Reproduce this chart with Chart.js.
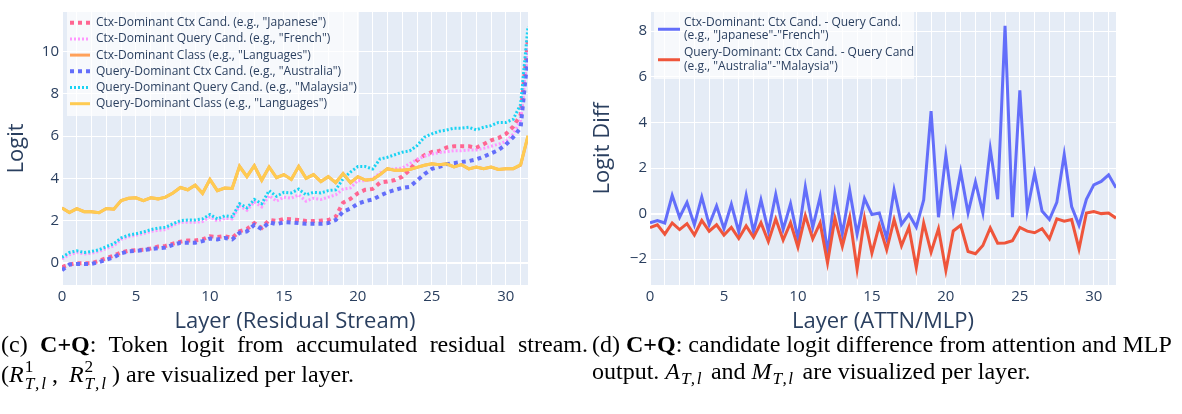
<!DOCTYPE html>
<html>
<head>
<meta charset="utf-8">
<script src="https://cdn.jsdelivr.net/npm/chart.js@4.4.0/dist/chart.umd.min.js"></script>
<style>
  body { margin: 0; width: 1182px; height: 414px; background: #fff; position: relative; overflow: hidden; }
  .box { position: absolute; top: 0; height: 335px; }
  #leftBox { left: 0; width: 580px; }
  #rightBox { left: 580px; width: 602px; }
  .cap { position: absolute; top: 331px; font-family: "Liberation Serif", "Times New Roman", serif; font-size: 24px; line-height: 27px; color: #000; white-space: nowrap; }
  .just { text-align: justify; text-align-last: justify; }
  .m { font-style: italic; }
  .ss { display: inline-block; vertical-align: -0.45em; font-size: 0.72em; line-height: 1.0; text-align: left; margin: 0 4px 0 1px; }
  .ss span { display: block; letter-spacing: 2px; }
  .sub { display: inline-block; font-size: 0.72em; vertical-align: -0.3em; letter-spacing: 1.5px; margin: 0 2px 0 1px; }
</style>
</head>
<body>
<div class="box" id="leftBox"><canvas id="residChart" width="580" height="335"></canvas></div>
<div class="box" id="rightBox"><canvas id="diffChart" width="602" height="335"></canvas></div>

<div class="cap" style="left:1px; width:587px;">
  <div class="just">(c) <b>C+Q</b>: Token logit from accumulated residual stream.</div>
  <div>(<span class="m">R</span><span class="ss"><span>1</span><span class="m">T,l</span></span>,&thinsp; <span class="m">R</span><span class="ss"><span>2</span><span class="m">T,l</span></span>) are visualized per layer.</div>
</div>
<div class="cap" style="left:592px;">
  <div>(d) <b>C+Q</b>: candidate logit difference from attention and MLP</div>
  <div>output. <span class="m">A</span><span class="sub m">T,l</span> and <span class="m">M</span><span class="sub m">T,l</span> are visualized per layer.</div>
</div>

<script>
// x positions: attn / mlp half-steps per layer
const layers = [0, 0.5, 1, 1.5, 2, 2.5, 3, 3.5, 4, 4.5, 5, 5.5, 6, 6.5, 7, 7.5,
    8, 8.5, 9, 9.5, 10, 10.5, 11, 11.5, 12, 12.5, 13, 13.5, 14, 14.5, 15, 15.5,
    16, 16.5, 17, 17.5, 18, 18.5, 19, 19.5, 20, 20.5, 21, 21.5, 22, 22.5, 23, 23.5,
    24, 24.5, 25, 25.5, 26, 26.5, 27, 27.5, 28, 28.5, 29, 29.5, 30, 30.5, 31, 31.5];

// (c) token logit, accumulated residual stream
const ctxCtxCand = [-0.2, -0.08, -0.02, -0.02, -0.02, 0.1, 0.22, 0.34,
    0.49, 0.57, 0.6, 0.62, 0.68, 0.77, 0.8, 0.91,
    1.0, 1.06, 1.06, 1.11, 1.26, 1.22, 1.26, 1.18,
    1.49, 1.6, 1.88, 1.65, 2.03, 1.98, 2.08, 2.06,
    2.03, 1.98, 1.98, 2.0, 2.03, 2.18, 2.85, 3.03,
    3.3, 3.46, 3.5, 3.8, 3.85, 3.92, 4.08, 4.4,
    4.85, 5.1, 5.25, 5.3, 5.46, 5.52, 5.52, 5.52,
    5.45, 5.62, 5.8, 5.91, 6.1, 6.45, 7.0, 10.6];
const ctxQueryCand = [0.18, 0.38, 0.49, 0.42, 0.45, 0.54, 0.68, 0.8,
    1.11, 1.23, 1.31, 1.38, 1.49, 1.54, 1.57, 1.77,
    1.92, 1.92, 1.92, 1.95, 2.18, 1.98, 2.11, 2.08,
    2.69, 2.49, 2.88, 2.65, 3.18, 2.92, 3.11, 3.06,
    3.22, 2.92, 3.06, 3.0, 3.11, 3.22, 3.49, 3.55,
    3.9, 3.88, 3.98, 4.26, 4.42, 4.45, 4.49, 4.7,
    4.9, 5.05, 5.15, 5.22, 5.26, 5.31, 5.31, 5.34,
    5.34, 5.42, 5.52, 5.62, 5.75, 6.1, 6.75, 10.3];
const ctxClass = [2.6, 2.38, 2.57, 2.42, 2.42, 2.37, 2.57, 2.54,
    2.95, 3.06, 3.08, 2.95, 3.08, 3.03, 3.11, 3.31,
    3.57, 3.46, 3.68, 3.29, 3.95, 3.42, 3.54, 3.52,
    4.57, 4.08, 4.6, 3.91, 4.54, 4.03, 4.18, 3.95,
    4.57, 4.0, 4.18, 3.85, 4.08, 3.8, 4.23, 3.8,
    4.08, 3.92, 3.95, 4.18, 4.46, 4.38, 4.38, 4.42,
    4.52, 4.62, 4.69, 4.65, 4.69, 4.54, 4.65, 4.45,
    4.54, 4.46, 4.54, 4.42, 4.46, 4.46, 4.62, 6.0];
const qryCtxCand = [-0.35, -0.08, -0.05, -0.05, -0.05, 0.03, 0.15, 0.26,
    0.45, 0.54, 0.57, 0.6, 0.65, 0.69, 0.72, 0.85,
    0.95, 0.95, 0.95, 1.03, 1.15, 1.11, 1.18, 1.11,
    1.42, 1.49, 1.8, 1.6, 1.92, 1.83, 1.92, 1.91,
    1.88, 1.85, 1.85, 1.85, 1.88, 2.03, 2.42, 2.57,
    2.8, 2.92, 3.0, 3.18, 3.34, 3.45, 3.55, 3.6,
    3.9, 4.2, 4.45, 4.55, 4.67, 4.72, 4.78, 4.82,
    4.9, 5.03, 5.18, 5.34, 5.6, 5.95, 6.4, 9.9];
const qryQueryCand = [0.26, 0.49, 0.57, 0.49, 0.54, 0.62, 0.77, 0.91,
    1.18, 1.31, 1.38, 1.46, 1.57, 1.65, 1.68, 1.85,
    2.0, 2.03, 2.03, 2.08, 2.29, 2.08, 2.23, 2.18,
    2.8, 2.6, 3.0, 2.8, 3.42, 3.15, 3.34, 3.31,
    3.49, 3.22, 3.34, 3.31, 3.42, 3.46, 3.98, 4.3,
    4.56, 4.56, 4.44, 4.92, 5.0, 5.12, 5.24, 5.3,
    5.55, 5.95, 6.11, 6.23, 6.29, 6.38, 6.38, 6.42,
    6.3, 6.42, 6.5, 6.65, 6.65, 6.8, 7.5, 11.2];
const qryClass = [2.6, 2.38, 2.57, 2.42, 2.42, 2.37, 2.57, 2.54,
    2.95, 3.06, 3.08, 2.95, 3.08, 3.03, 3.11, 3.31,
    3.57, 3.46, 3.68, 3.29, 3.95, 3.42, 3.54, 3.52,
    4.57, 4.08, 4.6, 3.91, 4.54, 4.03, 4.18, 3.95,
    4.57, 4.0, 4.18, 3.85, 4.08, 3.8, 4.23, 3.8,
    4.08, 3.92, 3.95, 4.18, 4.46, 4.38, 4.38, 4.42,
    4.52, 4.62, 4.69, 4.65, 4.69, 4.54, 4.65, 4.45,
    4.54, 4.46, 4.54, 4.42, 4.46, 4.46, 4.65, 6.03];

// (d) candidate logit difference, attn / mlp outputs
const ctxDiff = [-0.4, -0.3, -0.41, 0.8, -0.16, 0.49, -0.49, 0.73,
    -0.49, 0.34, -0.66, 0.41, -0.8, 0.8, -0.8, 0.6,
    -0.77, 0.84, -0.7, 0.43, -1.1, 1.17, -0.61, 0.74,
    -1.73, 0.87, -0.9, 1.01, -0.9, 0.66, -0.04, 0.03,
    -1.09, 1.03, -0.47, -0.03, -0.59, 0.6, 4.49, -0.16,
    2.56, 0.1, 1.84, 0.03, 1.39, 0.03, 2.84, 0.63,
    8.23, -0.16, 5.41, 0.13, 1.77, 0.11, -0.26, 0.49,
    2.59, 0.31, -0.51, 0.63, 1.26, 1.41, 1.7, 1.13];
const qryDiff = [-0.61, -0.49, -0.9, -0.41, -0.7, -0.44, -0.94, -0.3,
    -0.77, -0.49, -0.94, -0.6, -1.09, -0.54, -1.04, -0.4,
    -1.23, -0.23, -1.16, -0.4, -1.47, -0.09, -1.11, -0.41,
    -2.16, -0.2, -1.44, -0.16, -2.44, -0.2, -1.73, -0.51,
    -1.59, -0.26, -1.41, -0.6, -2.37, -0.41, -1.69, -0.66,
    -2.49, -0.76, -0.51, -1.66, -1.76, -1.4, -0.63, -1.3,
    -1.29, -1.19, -0.61, -0.77, -0.84, -0.66, -1.11, -0.23,
    -0.33, -0.26, -1.55, 0.03, 0.09, 0.0, 0.03, -0.2];

const INK = '#2a3f5f';
Chart.defaults.font.family = '"Open Sans", sans-serif';
Chart.defaults.color = INK;

const pts = arr => layers.map((x, i) => ({ x: x, y: arr[i] }));

// plotly-like plot background
const plotBg = {
    id: 'plotBg',
    beforeDraw(chart) {
        const { ctx, chartArea: a } = chart;
        ctx.save();
        ctx.fillStyle = '#E5ECF6';
        ctx.fillRect(a.left, a.top, a.right - a.left, a.bottom - a.top);
        ctx.restore();
    }
};

// legend with a translucent box, multi-line labels
const boxLegend = {
    id: 'boxLegend',
    afterDraw(chart, args, o) {
        const ctx = chart.ctx;
        ctx.save();
        ctx.fillStyle = 'rgba(255,255,255,0.7)';
        ctx.fillRect(o.x, o.y, o.w, o.h);
        ctx.font = '12px "Open Sans"';
        ctx.textBaseline = 'middle';
        let cy = o.first;
        chart.data.datasets.forEach(ds => {
            const lines = ds.label.split('\n');
            const mid = cy + (lines.length - 1) * o.lineGap / 2;
            ctx.strokeStyle = ds.borderColor;
            ctx.lineWidth = ds.borderWidth;
            ctx.setLineDash(ds.borderDash || []);
            ctx.beginPath();
            ctx.moveTo(o.x0, mid);
            ctx.lineTo(o.x1, mid);
            ctx.stroke();
            ctx.fillStyle = INK;
            lines.forEach((t, k) => ctx.fillText(t, o.tx, cy + k * o.lineGap));
            cy += o.step;
        });
        ctx.restore();
    }
};

function xScale(title) {
    return {
        type: 'linear', min: 0, max: 31.5,
        afterFit: s => { s.height = 50; },
        border: { display: false },
        grid: { color: '#fff', lineWidth: 1, drawTicks: false },
        ticks: {
            stepSize: 1, autoSkip: false, includeBounds: false, maxRotation: 0, padding: 3,
            font: { size: 15 },
            callback: v => (v % 5 === 0 ? String(v) : '')
        },
        title: { display: true, text: title, font: { size: 22 }, padding: { top: 0, bottom: 0 } }
    };
}

function yScale(title, min, max, width, titlePad) {
    return {
        min: min, max: max,
        afterFit: s => { s.width = width; },
        border: { display: false },
        grid: {
            color: '#fff', drawTicks: false,
            lineWidth: c => (c.tick && c.tick.value === 0 ? 2 : 1)
        },
        ticks: {
            stepSize: 2, includeBounds: false, padding: 3, font: { size: 15 },
            callback: v => (v < 0 ? '\u2212' + Math.abs(v) : String(v))
        },
        title: { display: true, text: title, font: { size: 22 }, padding: { top: titlePad, bottom: 0 } }
    };
}

function line(label, data, color, width, dash, order) {
    return {
        label: label, data: pts(data), borderColor: color, backgroundColor: color,
        borderWidth: width, borderDash: dash, pointRadius: 0, tension: 0,
        fill: false, order: order
    };
}

new Chart(document.getElementById('residChart'), {
    type: 'line',
    data: {
        datasets: [
            line('Ctx-Dominant Ctx Cand. (e.g., "Japanese")', ctxCtxCand, '#FF6692', 4, [4, 4], 5),
            line('Ctx-Dominant Query Cand. (e.g., "French")', ctxQueryCand, '#FF97FF', 3, [2, 2], 4),
            line('Ctx-Dominant Class (e.g., "Languages")', ctxClass, '#FFA15A', 3, [], 3),
            line('Query-Dominant Ctx Cand. (e.g., "Australia")', qryCtxCand, '#636EFA', 4, [4, 4], 2),
            line('Query-Dominant Query Cand. (e.g., "Malaysia")', qryQueryCand, '#19D3F3', 3, [2, 2], 1),
            line('Query-Dominant Class (e.g., "Languages")', qryClass, '#FECB52', 3, [], 0)
        ]
    },
    options: {
        responsive: false,
        animation: false,
        devicePixelRatio: 1,
        layout: { padding: { top: 5, right: 52, left: 0, bottom: 0 } },
        scales: {
            x: xScale('Layer (Residual Stream)'),
            y: yScale('Logit', -1.05, 11.88, 62, 4)
        },
        plugins: {
            legend: { display: false },
            tooltip: { enabled: false },
            boxLegend: { x: 67, y: 10, w: 292, h: 106, x0: 70, x1: 90, tx: 96, first: 22.7, step: 16.2, lineGap: 0 }
        }
    },
    plugins: [plotBg, boxLegend]
});

new Chart(document.getElementById('diffChart'), {
    type: 'line',
    data: {
        datasets: [
            line('Ctx-Dominant: Ctx Cand. - Query Cand.\n(e.g., "Japanese"-"French")', ctxDiff, '#636EFA', 3, [], 1),
            line('Query-Dominant: Ctx Cand. - Query Cand\n(e.g., "Australia"-"Malaysia")', qryDiff, '#EF553B', 3, [], 0)
        ]
    },
    options: {
        responsive: false,
        animation: false,
        devicePixelRatio: 1,
        layout: { padding: { top: 5, right: 66, left: 0, bottom: 0 } },
        scales: {
            x: xScale('Layer (ATTN/MLP)'),
            y: yScale('Logit Diff', -3.13, 8.84, 70, 10)
        },
        plugins: {
            legend: { display: false },
            tooltip: { enabled: false },
            boxLegend: { x: 74, y: 10, w: 260, h: 69, x0: 78, x1: 100, tx: 104, first: 22.5, step: 30.5, lineGap: 13.5 }
        }
    },
    plugins: [plotBg, boxLegend]
});
</script>
</body>
</html>
